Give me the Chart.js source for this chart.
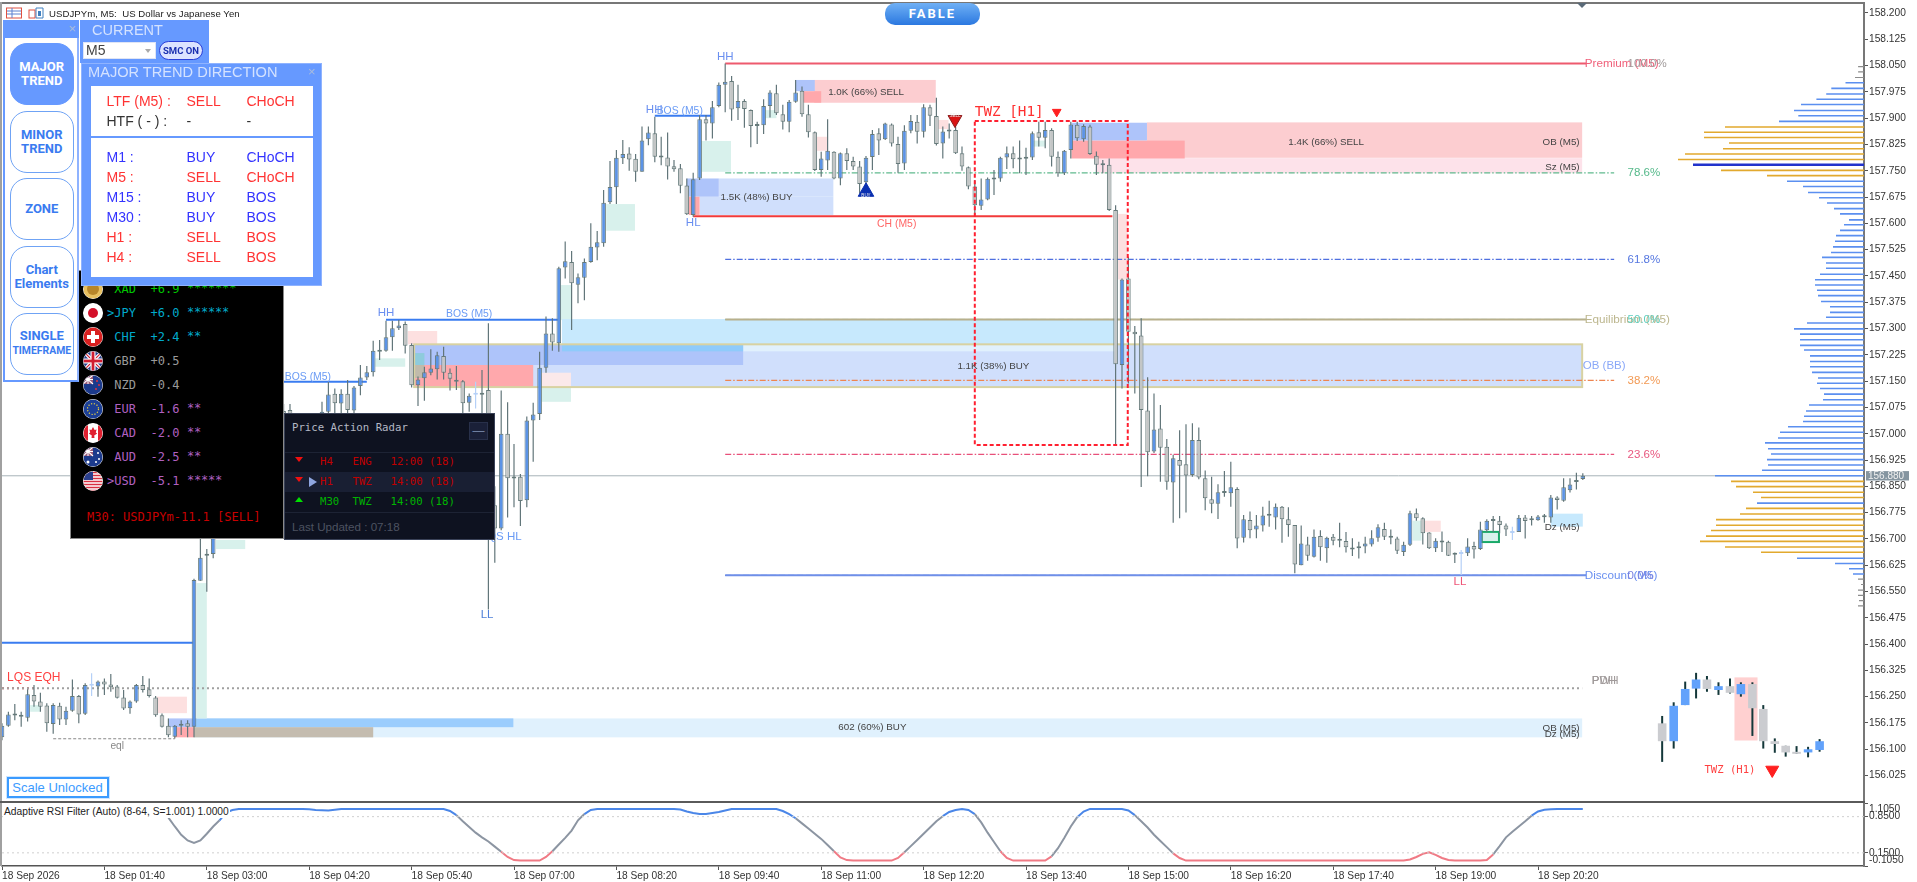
<!DOCTYPE html>
<html><head><meta charset="utf-8"><title>USDJPYm M5</title>
<script src="https://cdn.jsdelivr.net/npm/chart.js@4"></script>
<style>
html,body{margin:0;padding:0;background:#fff;width:1917px;height:882px;overflow:hidden;font-family:"Liberation Sans",Arial,sans-serif}
canvas{position:absolute;left:0;display:block}
.a{position:absolute;white-space:nowrap;box-sizing:border-box}
.nav{left:9.5px;width:64.5px;height:62px;border:1.5px solid #6fa3f5;border-radius:17px;color:#3a7bf0;font:bold 13px/14px Roboto,"Liberation Sans",sans-serif;text-align:center;display:flex;align-items:center;justify-content:center;background:#fff;white-space:normal}
.mono{font-family:"DejaVu Sans Mono",monospace}
.t{position:absolute;white-space:nowrap;font-size:14px;line-height:16px}
.r{color:#ff3333}.b{color:#3333ff}.k{color:#333}
</style></head><body>
<canvas id="main" width="1917" height="802" style="top:0"></canvas>
<canvas id="ind" width="1917" height="79" style="top:803px"></canvas>
<div id="ui"></div>
<script>
// ---------- candle data (M5 bars) ----------
const opens=[156.134,156.167,156.199,156.197,156.19,156.255,156.236,156.225,156.172,156.224,
156.185,156.21,156.252,156.201,156.281,156.279,156.293,156.285,156.279,156.248,
156.217,156.236,156.283,156.271,156.248,156.197,156.167,156.136,156.167,156.174,
156.164,156.581,156.656,156.657,156.72,156.76,156.755,156.81,156.845,156.825,
156.89,156.905,156.94,156.98,157.065,157.068,157.03,156.98,157.0,157.035,
157.02,157.063,157.114,157.086,157.114,157.066,157.136,157.16,157.175,157.238,
157.237,157.275,157.301,157.313,157.253,157.138,157.158,157.174,157.184,157.222,
157.174,157.154,157.15,157.088,157.111,157.117,157.125,156.796,156.73,157.0,
156.872,156.877,156.81,157.038,157.056,157.188,157.286,157.258,157.474,157.49,
157.425,157.445,157.49,157.531,157.543,157.66,157.703,157.786,157.799,157.784,
157.747,157.84,157.857,157.791,157.788,157.763,157.757,157.708,157.624,157.728,
157.897,157.885,157.935,157.995,158.006,157.928,157.949,157.923,157.881,157.88,
157.935,157.971,157.911,157.89,157.947,157.978,157.911,157.86,157.752,157.779,
157.804,157.728,157.8,157.778,157.762,157.717,157.789,157.857,157.84,157.882,
157.826,157.771,157.864,157.89,157.861,157.931,157.906,157.828,157.865,157.866,
157.8,157.76,157.705,157.65,157.668,157.725,157.728,157.788,157.8,157.785,
157.784,157.788,157.86,157.844,157.866,157.79,157.743,157.809,157.881,157.84,
157.876,157.793,157.769,157.767,157.638,157.196,157.443,157.291,157.28,157.066,
156.949,157.015,156.963,156.861,156.925,156.913,156.882,156.982,156.873,156.813,
156.8,156.834,156.83,156.842,156.703,156.754,156.727,156.738,156.768,156.761,
156.792,156.756,156.74,156.625,156.684,156.649,156.708,156.673,156.706,156.697,
156.694,156.672,156.673,156.678,156.684,156.703,156.728,156.706,156.701,156.663,
156.683,156.773,156.759,156.718,156.673,156.692,156.692,156.655,156.657,156.659,
156.68,156.671,156.725,156.751,156.752,156.738,156.717,156.72,156.761,156.755,
156.753,156.764,156.761,156.818,156.809,156.839,156.862,156.871];
const closes=[156.167,156.199,156.196,156.193,156.257,156.236,156.221,156.174,156.226,156.185,
156.21,156.252,156.199,156.283,156.283,156.293,156.285,156.277,156.247,156.216,
156.236,156.283,156.269,156.252,156.197,156.164,156.14,156.167,156.171,156.164,
156.583,156.646,156.652,156.72,156.755,156.74,156.815,156.835,156.82,156.895,
156.92,156.945,156.985,157.03,157.02,157.03,156.995,157.02,157.03,157.01,
157.063,157.112,157.087,157.114,157.068,157.132,157.16,157.175,157.237,157.234,
157.275,157.301,157.309,157.251,157.138,157.155,157.175,157.186,157.224,157.174,
157.157,157.148,157.087,157.108,157.114,157.111,156.79,156.73,157.0,156.873,
156.877,156.808,157.038,157.055,157.188,157.286,157.26,157.472,157.492,157.429,
157.446,157.49,157.533,157.546,157.659,157.704,157.787,157.798,157.782,157.747,
157.836,157.859,157.79,157.788,157.762,157.754,157.707,157.626,157.726,157.897,
157.885,157.931,157.995,158.004,157.925,157.949,157.926,157.878,157.878,157.935,
157.973,157.914,157.89,157.947,157.973,157.911,157.86,157.752,157.785,157.807,
157.728,157.8,157.778,157.762,157.712,157.787,157.855,157.836,157.885,157.828,
157.769,157.864,157.892,157.861,157.931,157.907,157.826,157.862,157.862,157.8,
157.762,157.705,157.652,157.668,157.727,157.73,157.787,157.8,157.783,157.782,
157.788,157.857,157.844,157.866,157.79,157.743,157.807,157.882,157.843,157.878,
157.798,157.767,157.766,157.638,157.198,157.44,157.291,157.284,157.068,156.947,
157.012,156.96,156.863,156.93,156.909,156.881,156.982,156.875,156.816,156.8,
156.833,156.831,156.847,156.701,156.756,156.725,156.738,156.767,156.766,156.792,
156.756,156.74,156.627,156.687,156.652,156.706,156.676,156.703,156.695,156.695,
156.676,156.67,156.678,156.687,156.702,156.733,156.706,156.703,156.666,156.683,
156.773,156.759,156.716,156.673,156.695,156.69,156.652,156.659,156.659,156.678,
156.67,156.727,156.752,156.753,156.74,156.727,156.719,156.76,156.751,156.753,
156.764,156.762,156.818,156.811,156.847,156.855,156.865,156.88];
const highs=[156.174,156.207,156.229,156.207,156.271,156.283,156.261,156.231,156.231,156.233,
156.221,156.299,156.255,156.288,156.317,156.296,156.302,156.315,156.283,156.269,
156.239,156.286,156.309,156.302,156.252,156.202,156.188,156.169,156.183,156.183,
156.586,156.72,156.671,156.74,156.77,156.78,156.83,156.85,156.86,156.91,
156.93,156.96,157.0,157.04,157.085,157.085,157.04,157.03,157.04,157.04,
157.091,157.148,157.129,157.127,157.153,157.136,157.196,157.193,157.265,157.267,
157.322,157.322,157.324,157.32,157.258,157.163,157.191,157.241,157.234,157.248,
157.186,157.193,157.153,157.115,157.148,157.182,157.315,156.85,157.123,157.09,
156.971,156.885,157.049,157.088,157.234,157.334,157.329,157.476,157.548,157.521,
157.457,157.5,157.6,157.578,157.695,157.778,157.809,157.838,157.817,157.798,
157.876,157.876,157.904,157.847,157.859,157.781,157.769,157.728,157.744,157.909,
157.909,157.949,158.002,158.056,158.02,157.995,157.954,157.925,157.89,157.954,
157.98,157.995,157.938,157.952,158.009,157.99,157.938,157.862,157.804,157.897,
157.806,157.802,157.814,157.79,157.778,157.792,157.866,157.871,157.887,157.885,
157.847,157.88,157.909,157.909,157.94,157.938,157.958,157.876,157.885,157.876,
157.819,157.762,157.724,157.728,157.731,157.752,157.79,157.819,157.819,157.836,
157.816,157.862,157.89,157.89,157.871,157.805,157.809,157.89,157.89,157.883,
157.881,157.805,157.781,157.785,157.652,157.443,157.505,157.307,157.329,157.161,
157.115,157.082,156.985,156.94,157.01,157.027,157.03,157.018,156.895,156.877,
156.856,156.894,156.92,156.847,156.768,156.778,156.768,156.792,156.809,156.801,
156.794,156.79,156.74,156.738,156.706,156.727,156.725,156.706,156.714,156.746,
156.72,156.702,156.692,156.706,156.725,156.742,156.746,156.727,156.706,156.692,
156.78,156.787,156.762,156.719,156.702,156.721,156.695,156.661,156.668,156.702,
156.692,156.749,156.756,156.765,156.765,156.744,156.735,156.768,156.768,156.765,
156.768,156.771,156.825,156.822,156.873,156.873,156.889,156.887];
const lows=[156.126,156.164,156.183,156.164,156.179,156.221,156.207,156.15,156.144,156.169,
156.169,156.207,156.174,156.198,156.252,156.25,156.255,156.264,156.245,156.212,
156.201,156.233,156.262,156.248,156.193,156.162,156.134,156.131,156.141,156.134,
156.134,156.581,156.549,156.645,156.71,156.73,156.74,156.8,156.81,156.81,
156.88,156.89,156.93,156.97,157.01,157.015,156.98,156.97,156.99,157.0,
157.01,157.053,157.058,157.058,157.053,157.058,157.11,157.153,157.163,157.21,
157.234,157.237,157.296,157.229,157.132,157.079,157.094,157.167,157.155,157.155,
157.123,157.125,157.058,157.063,157.072,157.058,156.499,156.632,156.725,156.761,
156.79,156.737,156.79,156.92,157.039,157.174,157.237,157.234,157.443,157.296,
157.372,157.381,157.488,157.495,157.533,157.655,157.655,157.769,157.75,157.719,
157.747,157.823,157.774,157.766,157.725,157.747,157.686,157.624,157.619,157.724,
157.836,157.842,157.931,157.917,157.893,157.895,157.873,157.817,157.826,157.855,
157.902,157.909,157.868,157.86,157.944,157.904,157.845,157.749,157.733,157.752,
157.726,157.709,157.752,157.752,157.685,157.712,157.752,157.795,157.838,157.819,
157.744,157.752,157.857,157.828,157.845,157.878,157.822,157.785,157.842,157.798,
157.75,157.697,157.624,157.638,157.666,157.681,157.719,157.755,157.757,157.743,
157.738,157.781,157.819,157.814,157.762,157.733,157.738,157.785,157.835,157.833,
157.795,157.738,157.743,157.635,156.968,157.129,157.143,157.115,156.848,156.879,
156.945,156.863,156.84,156.746,156.759,156.775,156.877,156.87,156.782,156.773,
156.757,156.82,156.792,156.673,156.69,156.702,156.702,156.721,156.735,156.727,
156.689,156.706,156.602,156.625,156.638,156.647,156.638,156.632,156.682,156.676,
156.661,156.651,156.644,156.659,156.678,156.692,156.697,156.685,156.657,156.651,
156.68,156.752,156.684,156.671,156.663,156.663,156.651,156.631,156.597,156.651,
156.644,156.668,156.72,156.72,156.716,156.708,156.697,156.72,156.701,156.738,
156.752,156.746,156.746,156.784,156.806,156.832,156.841,156.868];
const ghostBars=[14,74,228,236];
// ---------- H1 mini-chart ----------
const miniBars=[259.4,261.2,263,264.7,266.4,268.2,270,271.7,273.5,275.2,277,278.7,280.4,282.2,284];
const miniOpens=[156.174,156.123,156.226,156.273,156.299,156.269,156.28,156.257,156.286,156.215,156.123,156.11,156.091,156.091,156.098];
const miniCloses=[156.123,156.224,156.272,156.299,156.272,156.28,156.261,156.286,156.217,156.123,156.115,156.091,156.087,156.1,156.123];
const miniHighs=[156.195,156.234,156.293,156.318,156.309,156.291,156.302,156.291,156.291,156.226,156.131,156.11,156.109,156.107,156.129];
const miniLows=[156.064,156.102,156.226,156.245,156.264,156.255,156.259,156.25,156.138,156.102,156.09,156.079,156.087,156.077,156.093];
// ---------- axes ----------
const yTickLabels=["158.200","158.125","158.050","157.975","157.900","157.825","157.750","157.675","157.600","157.525","157.450","157.375","157.300","157.225","157.150","157.075","157.000","156.925","156.850","156.775","156.700","156.625","156.550","156.475","156.400","156.325","156.250","156.175","156.100","156.025"];
const xTickBars=[0,16,32,48,64,80,96,112,128,144,160,176,192,208,224,240];
const xLabels=["18 Sep 2026","18 Sep 01:40","18 Sep 03:00","18 Sep 04:20","18 Sep 05:40","18 Sep 07:00","18 Sep 08:20","18 Sep 09:40","18 Sep 11:00","18 Sep 12:20","18 Sep 13:40","18 Sep 15:00","18 Sep 16:20","18 Sep 17:40","18 Sep 19:00","18 Sep 20:20"];
const rsiTicks=[1.105,0.85,0.15,-0.105];
const rsiTickLabels=["1.1050","0.8500","0.1500","-0.1050"];
// ---------- adaptive RSI filter ----------
const rsiValues=[null,null,null,null,null,null,null,null,null,null,null,null,null,null,null,null,null,null,null,null,null,null,null,null,null,null,
.83,.66,.50,.39,.34,.39,.52,.66,.78,.93,.98,1,1,1,1,1,1,1,1,1,1,1,.995,.98,.975,.97,.985,1,
1,1,1,1,1,1,1,1,1,1,1,1,1,1,1,1,.96,.88,.76,.65,.54,.45,.37,.27,.17,.07,.01,0,0,0,0,.07,.18,.31,.44,.58,.78,.90,.98,1,
1,1,1,1,1,1,1,1,1,1,1,1,.99,.95,.92,.90,.90,.92,.94,.97,1,1,1,1,1,1,1,1,
.96,.90,.82,.72,.62,.52,.42,.30,.18,.06,.01,0,0,0,0,0,0,0,.05,.16,.28,.40,.52,.64,.76,.86,.94,.98,1,.98,.90,.74,.54,.36,.18,.05,
0,0,0,0,0,0,.08,.24,.44,.66,.84,.95,1,1,1,1,1,1,.97,.88,.76,.64,.50,.38,.26,.14,.05,
0,0,0,0,0,0,0,0,0,0,0,0,0,0,0,0,0,0,0,0,0,0,0,0,0,0,0,0,0,0,0,0,0,0,0,.02,.07,.13,.16,.11,.05,.01,
0,0,0,0,0,.01,.12,.28,.45,.56,.66,.76,.87,.95,.985,.995,1,1,1,1,1];
// ---------- volume profile (price level, volume, kind) ----------
const vpLevels=[158.047,158.032,158.016,158.001,157.985,157.969,157.954,157.939,157.922,157.907,157.891,157.875,157.860,157.845,157.829,157.813,157.798,157.782,157.767,157.751,157.736,157.720,157.705,157.688,157.673,157.658,157.642,157.627,157.610,157.596,157.580,157.565,157.549,157.533,157.517,157.503,157.487,157.472,157.455,157.439,157.424,157.409,157.394,157.377,157.362,157.346,157.332,157.316,157.299,157.284,157.268,157.252,157.239,157.222,157.206,157.191,157.175,157.159,157.144,157.129,157.113,157.097,157.082,157.065,157.050,157.035,157.020,157.004,156.988,156.974,156.957,156.942,156.926,156.911,156.896,156.880,156.864,156.849,156.833,156.818,156.802,156.787,156.771,156.755,156.739,156.724,156.708,156.693,156.677,156.662,156.645,156.630,156.615,156.600,156.585,156.570,156.554,156.539,156.524,156.509];
const vpVolumes=[5.9,5.9,9,18.5,32.7,37.8,47.6,63,70,65.7,85,139,160,160,135,141,179,186,171,143,97,77,61,56,45,37,30,24,15,20,24,28,29,31,33,42,38,38,44,49,49,47,46,43,34,34,38,57,70,64,64,64,60,54,54,54,52,46,47,44,40,41,55,58,60,61,76,84,86,99,96,93,97,96,102,149,133,128,111,103,107,118,124,148,148,153,158,164,139,103,67,29,15,11,6,3,6,6,5,6];
const vpKinds="gggbbbbbbbbooooooopoobbbbbbbbbbbbbbbbbbbbbbbbbbbbbbbbbbbbbbbbbbbbbbbbbbbbbbboooobooooooooobbbbggggggg";
// ---------- SMC levels ----------
const levelPremium=158.056,level786=157.744,level618=157.497,levelEquil=157.326,level382=157.152,level236=156.941,levelDiscount=156.596;
const levelCH=157.62,levelPDH=156.274,levelEql=156.13,bidPrice=156.88;
const bosLevels=[[44,57,157.148],[60,87,157.325],[102,111,157.907],[0,30,156.404]];
// ---------- zones: first bar, last bar, low price, high price, kind ----------
const zones=[
[126.9,145.9,157.944,158.009,'sell'],[123.9,127,157.977,158.009,'blue'],[125,128,157.944,157.977,'red'],
[112,129.9,157.676,157.728,'buy'],[109,129.9,157.624,157.676,'buy'],[107,112,157.676,157.728,'blue'],[107.3,109,157.624,157.676,'red'],
[109.3,113.9,157.747,157.835,'fvgUp'],[94.4,98.9,157.579,157.655,'fvgUp'],[87.3,89,157.324,157.424,'fvgUp'],[119.2,121,157.9,157.923,'fvgUp'],[161,163,157.819,157.836,'fvgUp'],
[127.3,129,157.807,157.847,'fvgDn'],[146.3,147.9,157.869,157.895,'fvgDn'],[174.4,175.9,157.44,157.627,'fvgDn'],
[178.9,246.9,157.787,157.888,'sell'],[171,246.9,157.743,157.786,'sz'],[167.1,178.9,157.836,157.887,'blue'],[167.1,184.8,157.785,157.836,'red'],
[87.5,174,157.255,157.327,'sky'],[64.4,246.9,157.133,157.255,'buy'],[87.5,174,157.235,157.255,'skyPale'],
[64.4,115.8,157.196,157.255,'blue'],[87.5,115.8,157.235,157.255,'skyBlue'],[64.4,83,157.133,157.196,'red'],[64.4,66,157.159,157.23,'tealA'],
[84.3,88.9,157.133,157.174,'pinkPale'],[84.3,88.9,157.091,157.133,'fvgUp'],[63.4,68,157.255,157.293,'fvgDn'],[58.3,63,157.191,157.215,'fvgUp'],
[30,246.9,156.134,156.188,'pale'],[30,79.9,156.163,156.188,'skyMid'],[30,58,156.134,156.163,'tan'],[26,30,156.163,156.188,'blue'],[27,30,156.134,156.163,'red'],
[24.2,28.9,156.203,156.25,'fvgDn'],[30.4,32,156.188,156.574,'fvgUp'],[33.4,38,156.671,156.697,'fvgUp'],[4.4,6,156.207,156.226,'fvgUp'],
[220.4,221.8,156.695,156.752,'fvgUp'],[222.3,224.8,156.72,156.752,'fvgDn'],[242,247,156.735,156.772,'sky'],[231.2,233.9,156.691,156.72,'fvgUp'],
[270.7,274.3,156.125,156.305,'mini']];
const bbBox=[64.4,246.9,157.133,157.255],greenBox=[231.2,233.9,156.691,156.72],twzBox=[152,175.9,156.968,157.892];
// ---------- markers ----------
const sellMark={x:148.9,y:157.896},buyMark={x:135,y:157.69},twzMark={x:164.8,y:157.918},twzMiniMark={x:276.6,y:156.041};
// ---------- labels: text, bar, price, align, style ----------
const chartLabels=[
["HH",113,158.075,'center','swing'],["HH",101.9,157.923,'center','swing'],["BOS (M5)",105.9,157.921,'center','bos'],["HL",108,157.601,'center','swing'],
["CH (M5)",139.8,157.599,'center','ch'],["1.0K (66%) SELL",135,157.975,'center','vol'],["1.5K (48%) BUY",117.9,157.673,'center','vol'],["1.4K (66%) SELL",206.9,157.832,'center','vol'],
["1.1K (38%) BUY",154.9,157.191,'center','vol'],["OB (M5)",246.5,157.832,'right','vol'],["Sz (M5)",246.5,157.759,'right','vol'],["OB (BB)",247,157.193,'left','obbb'],
["Premium (M5)",247.3,158.056,'left','prem'],["100.0%",254,158.056,'left','grey'],["78.6%",254,level786,'left','f786'],["61.8%",254,level618,'left','f618'],
["Equilibrium (M5)",247.3,levelEquil,'left','eq'],["50.0%",254,levelEquil,'left','f50'],["38.2%",254,level382,'left','f382'],["23.6%",254,level236,'left','f236'],
["Discount (M5)",247.3,levelDiscount,'left','disc'],["0.0%",254,levelDiscount,'left','f0'],
["PDH",248.4,156.295,'left','grey'],["PWH",248.4,156.295,'left','grey'],["OB (M5)",246.5,156.16,'right','vol'],["Dz (M5)",246.5,156.142,'right','vol'],["602 (60%) BUY",136,156.162,'center','vol'],
["Dz (M5)",246.5,156.734,'right','vol'],["BOS (M5)",73,157.34,'center','bos'],["BOS (M5)",47.8,157.162,'center','bos'],["HH",60,157.344,'center','swing'],
["LQS HL",81.2,156.705,'right','lqs'],["LL",75.8,156.483,'center','swingDk'],["LL",227.8,156.578,'center','llRed'],["LQS EQH",0.8,156.304,'left','eqh'],["eql",18,156.109,'center','eql'],
["TWZ [H1]",152,157.918,'left','twz'],["TWZ (H1)",266,156.039,'left','twzS'],["SELL",148.9,157.906,'center','tiny'],["BUY",135,157.678,'center','tiny']];
// ---------- styles ----------
const zoneFill={sell:'#fccdd0',blue:'#aec4fa',red:'#ffa8ac',buy:'#d0dffc',fvgUp:'#d8f1ec',fvgDn:'#fde0e0',sz:'#fde2ea',sky:'#c7e9fd',skyPale:'#e1f1fd',skyBlue:'#8fcbfb',skyMid:'#9bcdfd',tealA:'rgba(90,215,170,.38)',pinkPale:'#fbe9ea',pale:'#e0f1fd',tan:'#c4bcaf',mini:'#ffd0d0'};
const F='"Liberation Sans",Arial,sans-serif',M='"DejaVu Sans Mono",monospace';
const labelStyle={swing:['11.5px '+F,'#6a8ff0'],swingDk:['11.5px '+F,'#4f80d8'],bos:['10.4px '+F,'#6a9bf5'],ch:['10.4px '+F,'#ff6666'],vol:['9.8px '+F,'#444'],obbb:['11.5px '+F,'#8aa8f8'],
prem:['11.7px '+F,'#f0607a'],grey:['11.5px '+F,'#a09a9a'],f786:['11.5px '+F,'#55b98a'],f618:['11.5px '+F,'#5577e0'],eq:['11.7px '+F,'#bdb78f'],f50:['11.5px '+F,'#5fcfc0'],f382:['11.5px '+F,'#f29a55'],f236:['11.5px '+F,'#e8577f'],disc:['11.7px '+F,'#6a90f0'],f0:['11.5px '+F,'#7a80e0'],
lqs:['11.5px '+F,'#6a9bf5'],llRed:['11.5px '+F,'#ee5577'],eqh:['12px '+F,'#ff4040'],eql:['10.2px '+F,'#888'],twz:['14.3px '+M,'#ff3030'],twzS:['10.6px '+M,'#ff4040'],tiny:['4.5px '+F,'#eee']};
const UP='#5b93e6',DOWN='#c3c6c6',EDGE='#667a7a',WICK='#62767a',GHOST='#b5d0f7';

const xMax=(1864-2)/6.4;
const line=(pts,color,w,dash,order)=>({type:'line',data:pts,borderColor:color,borderWidth:w,borderDash:dash||[],pointRadius:0,tension:0,order:order??3,xAxisID:'x',yAxisID:'y'});
const seg=(a,b,p)=>[{x:a,y:p},{x:b,y:p}];
const DD=[6,2,1.5,2];

const wickData=opens.map((_,i)=>({x:i,y:[lows[i],highs[i]]}));
const bodyData=opens.map((o,i)=>({x:i,y:[Math.min(o,closes[i]),Math.max(o,closes[i])]}));
const miniWick=miniBars.map((b,i)=>({x:b,y:[miniLows[i],miniHighs[i]]}));
const miniBody=miniBars.map((b,i)=>({x:b,y:[Math.min(miniOpens[i],miniCloses[i]),Math.max(miniOpens[i],miniCloses[i])]}));
const vpRows=k=>{const d=[];vpLevels.forEach((p,i)=>{if(vpKinds[i]===k){d.push({x:0,y:p},{x:vpVolumes[i],y:p},{x:null,y:null});}});return d;};
const vpSet=(k,c,w)=>({type:'line',data:vpRows(k),borderColor:c,borderWidth:w,pointRadius:0,tension:0,spanGaps:false,xAxisID:'xVol',yAxisID:'y',order:3});
const mark=(pt,r,rot,bg,bd)=>({type:'scatter',data:[pt],pointStyle:'triangle',pointRadius:r,rotation:rot,backgroundColor:bg,borderColor:bd,borderWidth:1,order:0,xAxisID:'x',yAxisID:'y'});
const barSet=(d,thick,order,bg,bd,bw,minLen)=>({type:'bar',data:d,barThickness:thick,grouped:false,backgroundColor:bg,borderColor:bd,borderWidth:bw,borderSkipped:false,inflateAmount:0,minBarLength:minLen,order,xAxisID:'x',yAxisID:'y'});
const noPad=a=>{a.paddingTop=0;a.paddingBottom=0;a.paddingLeft=0;a.paddingRight=0;};

const zonePlugin={id:'zones',beforeDatasetsDraw(c){
  const g=c.ctx,X=c.scales.x,Y=c.scales.y,a=c.chartArea;
  g.save();g.beginPath();g.rect(a.left,a.top,a.right-a.left,a.bottom-a.top);g.clip();
  zones.forEach(z=>{const x0=X.getPixelForValue(z[0]),x1=X.getPixelForValue(z[1]),y0=Y.getPixelForValue(z[3]),y1=Y.getPixelForValue(z[2]);
    g.fillStyle=zoneFill[z[4]];g.fillRect(x0,y0,x1-x0,y1-y0);});
  const box=(b,col,w,dash)=>{g.strokeStyle=col;g.lineWidth=w;g.setLineDash(dash||[]);g.strokeRect(X.getPixelForValue(b[0]),Y.getPixelForValue(b[3]),X.getPixelForValue(b[1])-X.getPixelForValue(b[0]),Y.getPixelForValue(b[2])-Y.getPixelForValue(b[3]));g.setLineDash([]);};
  box(bbBox,'#d8d2a2',2);box(greenBox,'#18a868',2);
  g.restore();
},afterDatasetsDraw(c){
  const g=c.ctx,X=c.scales.x,Y=c.scales.y;
  g.save();
  g.strokeStyle='#ff2030';g.lineWidth=2;g.setLineDash([4,2.5]);
  g.strokeRect(X.getPixelForValue(twzBox[0]),Y.getPixelForValue(twzBox[3]),X.getPixelForValue(twzBox[1])-X.getPixelForValue(twzBox[0]),Y.getPixelForValue(twzBox[2])-Y.getPixelForValue(twzBox[3]));
  g.setLineDash([]);g.textBaseline='middle';
  chartLabels.forEach(l=>{const s=labelStyle[l[4]];g.font=s[0];g.fillStyle=s[1];g.textAlign=l[3];g.fillText(l[0],X.getPixelForValue(l[1]),Y.getPixelForValue(l[2]));});
  // bid tag
  const by=Y.getPixelForValue(bidPrice);
  g.fillStyle='#8595a0';g.fillRect(1866,by-4.7,43,9.4);
  g.fillStyle='#f0f0f0';g.font='10px '+F;g.textAlign='left';g.fillText(bidPrice.toFixed(3),1868,by+.5);
  g.restore();
}};

new Chart(document.getElementById('main'),{type:'bar',plugins:[zonePlugin],data:{datasets:[
  line(seg(0,xMax,bidPrice),'#a8b3b8',1,[],4),
  line(seg(113,247.5,levelPremium),'#ee5a6e',2),
  line(seg(113,251.9,level786),'#60ba8e',1.2,DD),
  line(seg(113,251.9,level618),'#4f70e0',1.2,DD),
  line(seg(113,247.5,levelEquil),'#b8b08c',2),line(seg(113,247.5,levelEquil),'#55c9c0',1,[6,3]),
  line(seg(113,251.9,level382),'#ee8550',1.2,DD),
  line(seg(113,251.9,level236),'#e8507a',1.2,DD),
  line(seg(113,247.5,levelDiscount),'#6f8fe8',2),line(seg(113,247.5,levelDiscount),'#2f58c8',1,[6,3]),
  line(seg(108,173.5,levelCH),'#f23a3a',2),
  line(seg(0,246.9,levelPDH),'#a0a0a0',2,[2,3]),line(seg(0,5,levelPDH),'#f05050',2,[2,3]),
  line(seg(8,27,levelEql),'#888',1,[3,2]),
  ...bosLevels.map(b=>line(seg(b[0],b[1],b[2]),'#3a7cf0',2)),
  vpSet('g','#8c8c8c',1.2),vpSet('b','#5b8ff0',1.6),vpSet('o','#e2a92e',1.6),vpSet('p','#2233cc',2.6),
  barSet(wickData,1.2,2,(c)=>ghostBars.includes(c.dataIndex)?GHOST:WICK,'rgba(0,0,0,0)',0,0),
  barSet(bodyData,4.6,1,(c)=>ghostBars.includes(c.dataIndex)?GHOST:(closes[c.dataIndex]>=opens[c.dataIndex]?UP:DOWN),(c)=>ghostBars.includes(c.dataIndex)?GHOST:EDGE,1,2),
  barSet(miniWick,2,2,'#14383a','rgba(0,0,0,0)',0,0),
  barSet(miniBody,8.6,1,(c)=>miniCloses[c.dataIndex]>=miniOpens[c.dataIndex]?'#62a2fb':'#cbccd0','rgba(0,0,0,0)',0,2),
  mark(sellMark,8,180,'#d91414','#8a1a1a'),mark(buyMark,9,0,'#0a2fb0','#0a2fb0'),
  mark(twzMark,5,180,'#ff2020','#ff2020'),mark(twzMiniMark,7.5,180,'#ff2020','#ff2020')
]},options:{responsive:false,animation:false,devicePixelRatio:1,layout:{autoPadding:false,padding:{left:2,top:3,right:0,bottom:0}},
 plugins:{legend:{display:false},tooltip:{enabled:false}},
 scales:{
  x:{type:'linear',min:0,max:xMax,display:false,offset:false,grid:{display:false}},
  xVol:{type:'linear',reverse:true,min:0,max:1862,display:false,offset:false,grid:{display:false}},
  y:{type:'linear',position:'right',min:155.9496,max:158.2285,
    afterBuildTicks:a=>{a.ticks=yTickLabels.map(t=>({value:+t}));},
    afterFit:a=>{a.width=53;noPad(a);},
    border:{display:true,color:'#777',width:2},
    grid:{drawOnChartArea:false,drawTicks:true,tickLength:4,color:'#555'},
    ticks:{autoSkip:false,padding:1,color:'#333',font:{family:F,size:10.2},callback:(v,i)=>yTickLabels[i]}}
 }}});

const rsiColor=c=>{const v=(c.p0.parsed.y+c.p1.parsed.y)/2;return v>=0.85?'#4a86e8':v<=0.15?'#f07a85':'#8c95a2';};
new Chart(document.getElementById('ind'),{type:'line',data:{datasets:[
  {data:seg(0,xMax,rsiTicks[1]),borderColor:'#cfcfcf',borderWidth:1,borderDash:[2,3],pointRadius:0},
  {data:seg(0,xMax,rsiTicks[2]),borderColor:'#cfcfcf',borderWidth:1,borderDash:[2,3],pointRadius:0},
  {data:rsiValues.map((v,i)=>({x:i,y:v})),borderColor:'#4a86e8',borderWidth:2,pointRadius:0,tension:0,spanGaps:false,segment:{borderColor:rsiColor}}
]},options:{responsive:false,animation:false,devicePixelRatio:1,layout:{autoPadding:false,padding:{left:2,top:0.5,right:0,bottom:0}},
 plugins:{legend:{display:false},tooltip:{enabled:false}},
 scales:{
  x:{type:'linear',min:0,max:xMax,offset:false,
    afterBuildTicks:a=>{a.ticks=xTickBars.map(v=>({value:v}));},
    afterFit:a=>{a.height=16;noPad(a);},
    border:{display:true,color:'#555',width:1.5},
    grid:{drawOnChartArea:false,tickLength:4,color:'#555'},
    ticks:{autoSkip:false,maxRotation:0,minRotation:0,align:'start',padding:0,color:'#333',font:{family:F,size:10.2},callback:(v,i)=>xLabels[i]}},
  y:{type:'linear',position:'right',min:-0.105,max:1.105,
    afterBuildTicks:a=>{a.ticks=rsiTicks.map(v=>({value:v}));},
    afterFit:a=>{a.width=53;noPad(a);},
    border:{display:true,color:'#777',width:2},
    grid:{drawOnChartArea:false,tickLength:4,color:'#555'},
    ticks:{autoSkip:false,padding:1,color:'#333',font:{family:F,size:10.2},callback:(v,i)=>i===0?['',rsiTickLabels[i]]:i===3?[rsiTickLabels[i],'']:rsiTickLabels[i]}}
 }}});

// ---------- terminal UI around the chart ----------
const flags={
 XAD:'<rect width="20" height="20" fill="#e8c060"/><circle cx="10" cy="10" r="6" fill="#b8862a"/>',
 JPY:'<rect width="20" height="20" fill="#fff"/><circle cx="10" cy="10" r="5" fill="#d4102a"/>',
 CHF:'<rect width="20" height="20" fill="#d82020"/><rect x="8" y="4" width="4" height="12" fill="#fff"/><rect x="4" y="8" width="12" height="4" fill="#fff"/>',
 GBP:'<rect width="20" height="20" fill="#2a3f8c"/><path d="M0 0L20 20M20 0L0 20" stroke="#fff" stroke-width="3.4"/><path d="M0 0L20 20M20 0L0 20" stroke="#d01c30" stroke-width="1.2"/><rect x="7.5" width="5" height="20" fill="#fff"/><rect y="7.5" width="20" height="5" fill="#fff"/><rect x="8.6" width="2.8" height="20" fill="#d01c30"/><rect y="8.6" width="20" height="2.8" fill="#d01c30"/>',
 NZD:'<rect width="20" height="20" fill="#1c3a8c"/><rect width="10" height="9" fill="#9a5a78"/><path d="M0 4.5H10M5 0V9M0 0L10 9M10 0L0 9" stroke="#fff" stroke-width="1.1"/><circle cx="14" cy="6" r="1" fill="#e03040"/><circle cx="16" cy="10" r="1" fill="#e03040"/><circle cx="13" cy="14" r="1" fill="#e03040"/>',
 EUR:'<rect width="20" height="20" fill="#1c3f96"/><circle cx="10" cy="10" r="5.5" fill="none" stroke="#e8d040" stroke-width="1.2" stroke-dasharray="1.2 1.7"/>',
 CAD:'<rect width="20" height="20" fill="#fff"/><rect width="5" height="20" fill="#e02030"/><rect x="15" width="5" height="20" fill="#e02030"/><path d="M10 4l1.6 3 2-.6-.8 3 1.4 1-3 2.2.3 2.4h-3l.3-2.4-3-2.2 1.4-1-.8-3 2 .6z" fill="#e02030"/>',
 AUD:'<rect width="20" height="20" fill="#1c3a8c"/><rect width="10" height="9" fill="#9a5a78"/><path d="M0 4.5H10M5 0V9M0 0L10 9M10 0L0 9" stroke="#fff" stroke-width="1.1"/><circle cx="5" cy="15" r="1.5" fill="#fff"/><circle cx="15" cy="6" r="1" fill="#fff"/><circle cx="16" cy="12" r="1" fill="#fff"/><circle cx="13" cy="15" r="1" fill="#fff"/>',
 USD:'<rect width="20" height="20" fill="#fff"/><path d="M0 1.5H20M0 4.5H20M0 7.5H20M0 10.5H20M0 13.5H20M0 16.5H20M0 19.5H20" stroke="#d83040" stroke-width="1.5"/><rect width="10" height="9" fill="#2a3f8c"/>'};
const strength=[["XAD"," XAD","+6.9","*******","#00c800",289],["JPY",">JPY","+6.0","******","#00aacc",312.5],["CHF"," CHF","+2.4","**","#00aacc",336.5],["GBP"," GBP","+0.5","","#9a9a9a",360.5],["NZD"," NZD","-0.4","","#9a9a9a",384.5],["EUR"," EUR","-1.6","**","#b060c0",408.5],["CAD"," CAD","-2.0","**","#b060c0",432.5],["AUD"," AUD","-2.5","**","#b060c0",456.5],["USD",">USD","-5.1","*****","#b060c0",480.5]];
let h='';
// window frame
h+='<div class="a" style="left:0;top:2px;width:1865px;height:1.5px;background:#777"></div>';
h+='<div class="a" style="left:0;top:2px;width:2px;height:864px;background:#a0a0a0"></div>';
h+='<div class="a" style="left:0;top:801px;width:1865px;height:2px;background:#5a5a5a"></div>';
h+='<div class="a" style="left:1577px;top:3px;width:0;height:0;border-left:5px solid transparent;border-right:5px solid transparent;border-top:5px solid #5a6a78"></div>';
// title
h+='<svg class="a" style="left:6px;top:7px" width="40" height="13"><rect x=".5" y="1" width="15" height="10" fill="#fff" stroke="#e05040"/><path d="M1 4H15M1 7H15M6 1V11" stroke="#5a80d0"/><rect x="23" y="3" width="6" height="8" fill="#fff" stroke="#e05040"/><path d="M30 1H37V11H30Z" fill="#fff" stroke="#4080c0"/><rect x="32" y="4" width="3" height="5" fill="#4080c0"/></svg>';
h+='<div class="a" style="left:49px;top:7px;font-size:9.6px;line-height:13px;letter-spacing:.05px;color:#222">USDJPYm, M5:&nbsp; US Dollar vs Japanese Yen</div>';
h+='<div class="a" style="left:885px;top:3px;width:95px;height:22px;border-radius:10px;background:linear-gradient(#6fb0f5,#2b78e0);color:#fff;font:bold 13px/22px Roboto,sans-serif;letter-spacing:2px;text-align:center">FABLE</div>';
// black strength panel
h+='<div class="a" style="left:69.5px;top:270px;width:214px;height:269px;background:#000;border:1px solid #8a8a8a"></div>';
strength.forEach(s=>{
 h+=`<svg class="a" style="left:83px;top:${s[5]-10}px" width="20" height="20"><defs><clipPath id="c${s[0]}"><circle cx="10" cy="10" r="9.5"/></clipPath></defs><circle cx="10" cy="10" r="10" fill="#fff"/><g clip-path="url(#c${s[0]})">${flags[s[0]]}</g></svg>`;
 h+=`<div class="a mono" style="left:107px;top:${s[5]-8}px;font-size:12px;line-height:16px;color:${s[4]};white-space:pre">${s[1]}</div>`;
 h+=`<div class="a mono" style="left:150.5px;top:${s[5]-8}px;font-size:12px;line-height:16px;color:${s[4]}">${s[2]}</div>`;
 h+=`<div class="a mono" style="left:187px;top:${s[5]-9}px;font-size:12px;line-height:16px;letter-spacing:-.2px;color:${s[4]}">${s[3]}</div>`;
});
h+='<div class="a mono" style="left:87px;top:508.5px;font-size:12px;line-height:16px;color:#c80000">M30: USDJPYm-11.1 [SELL]</div>';
// radar panel
h+='<div class="a" style="left:284px;top:413px;width:210.5px;height:126.5px;background:#0e1220;border:1px solid #3a4258"></div>';
h+='<div class="a mono" style="left:292px;top:421px;font-size:10.7px;line-height:14px;color:#b4b8c4">Price Action Radar</div>';
h+='<div class="a" style="left:469px;top:421.5px;width:19px;height:18.5px;background:#1a2038;border:1px solid #28304a;color:#6f7f9f;font:12px/16px sans-serif;text-align:center">—</div>';
h+='<div class="a" style="left:285px;top:451.5px;width:209px;height:1px;background:#1d2334"></div>';
h+='<div class="a" style="left:285px;top:472px;width:209px;height:20px;background:#191f33"></div>';
h+='<div class="a" style="left:285px;top:511.5px;width:209px;height:1px;background:#1d2334"></div>';
[[462,'H4','ENG','12:00 (18)','#c00000',0],[482,'H1','TWZ','14:00 (18)','#c00000',0],[502,'M30','TWZ','14:00 (18)','#00b400',1]].forEach((r,i)=>{
 h+=`<div class="a" style="left:294.5px;top:${r[0]-5}px;width:0;height:0;border-left:4.5px solid transparent;border-right:4.5px solid transparent;${r[5]?'border-bottom:5px solid #00e000':'border-top:5px solid #f01010'}"></div>`;
 h+=`<div class="a mono" style="left:320px;top:${r[0]-7}px;font-size:10.7px;line-height:14px;color:${r[4]}">${r[1]}</div>`;
 h+=`<div class="a mono" style="left:352.5px;top:${r[0]-7}px;font-size:10.7px;line-height:14px;color:${r[4]}">${r[2]}</div>`;
 h+=`<div class="a mono" style="left:390.5px;top:${r[0]-7}px;font-size:10.7px;line-height:14px;color:${r[4]}">${r[3]}</div>`;
});
h+='<div class="a" style="left:308.5px;top:477px;width:0;height:0;border-top:5px solid transparent;border-bottom:5px solid transparent;border-left:8px solid #8fa6e0"></div>';
h+='<div class="a" style="left:292px;top:519.5px;font-size:11.6px;line-height:14px;color:#4d5260">Last Updated : 07:18</div>';
// left nav
h+='<div class="a" style="left:3px;top:20px;width:76px;height:362px;background:#fff;border:2.5px solid #6699ff;border-top:0;border-right:2px solid #8fb3ff"></div>';
h+='<div class="a" style="left:3px;top:20px;width:76px;height:18px;background:#6699ff;color:#a9bcdc;font:13px/18px sans-serif;text-align:right;padding-right:3px">×</div>';
[[42.5,'MAJOR<br>TREND',1],[110.5,'MINOR<br>TREND',0],[177.5,'ZONE',0],[245.5,'Chart<br>Elements',0],[312.5,'SINGLE<br><span style="font-size:10.4px">TIMEFRAME</span>',0]].forEach(b=>{
 h+=`<div class="a nav" style="top:${b[0]}px;${b[2]?'background:#6699ff;color:#fff;border-color:#6699ff':''}"><span>${b[1]}</span></div>`;
});
// current panel
h+='<div class="a" style="left:80px;top:20px;width:129px;height:43px;background:#6699ff"></div>';
h+='<div class="a" style="left:92px;top:21px;font-size:14.5px;line-height:18px;color:#d4e2ff">CURRENT</div>';
h+='<div class="a" style="left:83px;top:42px;width:72.5px;height:17px;background:#fff;border:1px solid #dfe5f5;color:#444;font-size:14px;line-height:15px;padding-left:2px">M5<div style="position:absolute;right:4px;top:6px;width:0;height:0;border-left:3px solid transparent;border-right:3px solid transparent;border-top:4px solid #aaa"></div></div>';
h+='<div class="a" style="left:159px;top:40.5px;width:44px;height:19px;border-radius:10px;background:#dce3ff;border:1px solid #2b3fd8;color:#1a2fb0;font:bold 9.5px/17px Roboto,sans-serif;text-align:center">SMC ON</div>';
// major trend panel
h+='<div class="a" style="left:81px;top:62.5px;width:241px;height:223.5px;background:#6699ff;border:1px solid #8fb3ff"></div>';
h+='<div class="a" style="left:88px;top:63px;font-size:14.6px;line-height:18px;color:#d4e2ff">MAJOR TREND DIRECTION</div>';
h+='<div class="a" style="left:308px;top:64px;color:#a9bcdc;font:13px/16px sans-serif">×</div>';
h+='<div class="a" style="left:91px;top:86px;width:221.5px;height:50px;background:#fff"></div>';
h+='<div class="a" style="left:91px;top:138px;width:221.5px;height:139px;background:#fff"></div>';
[[101,'LTF (M5) :','SELL','CHoCH','r'],[121,'HTF ( - ) :','-','-','k'],[156.7,'M1 :','BUY','CHoCH','b'],[176.7,'M5 :','SELL','CHoCH','r'],[196.7,'M15 :','BUY','BOS','b'],[216.7,'M30 :','BUY','BOS','b'],[236.7,'H1 :','SELL','BOS','r'],[256.7,'H4 :','SELL','BOS','r']].forEach(r=>{
 [[106.5,r[1]],[186.5,r[2]],[246.5,r[3]]].forEach(c=>{h+=`<div class="t ${r[4]}" style="left:${c[0]}px;top:${r[0]-8}px">${c[1]}</div>`;});
});
// indicator title and scale box
h+='<div class="a" style="left:3px;top:805px;padding:0 1px;background:#fff;font-size:10.25px;line-height:13px;color:#222">Adaptive RSI Filter (Auto) (8-64, S=1.001) 1.0000</div>';
h+='<div class="a" style="left:6.5px;top:777px;width:102px;height:20.5px;border:2px solid #3b9bff;outline:1px solid #cfe6ff;color:#3b9bff;font-size:13px;line-height:17px;text-align:center;background:#fff">Scale Unlocked</div>';
document.getElementById('ui').innerHTML=h;
</script>
</body></html>
